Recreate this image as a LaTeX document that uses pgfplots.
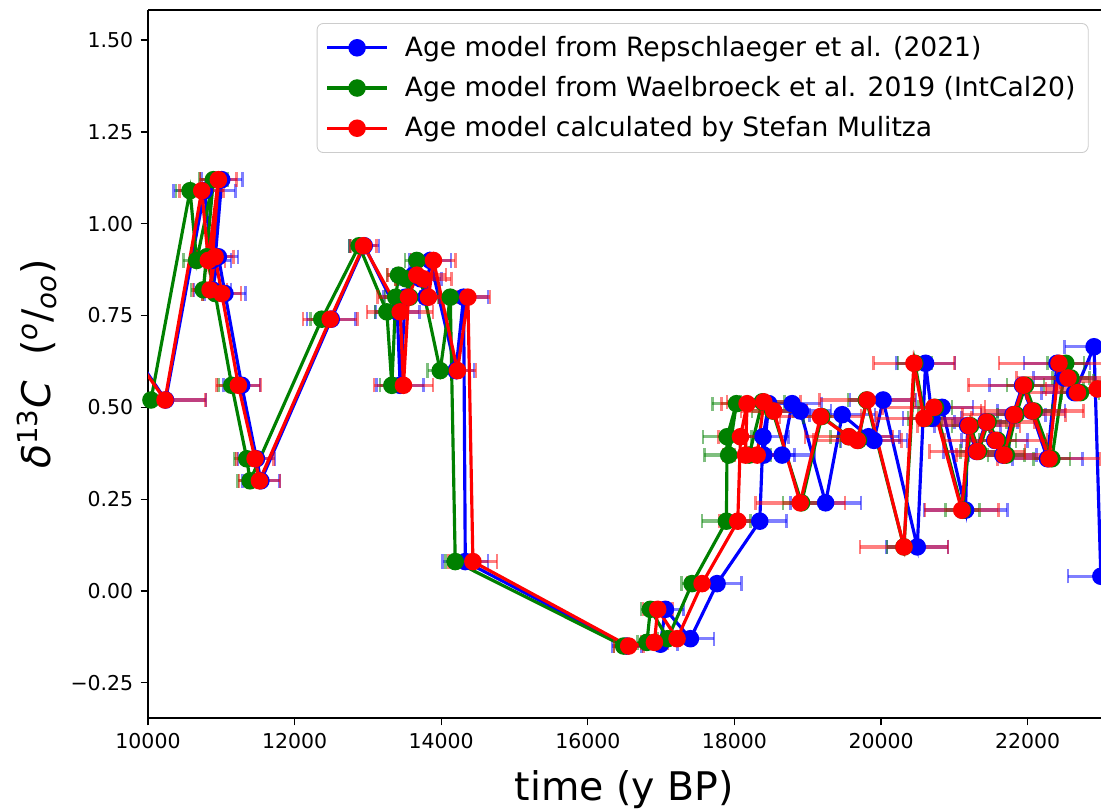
\documentclass[border=0pt]{standalone}
\usepackage{fontspec}
\setmainfont{DejaVu Sans}
\usepackage{pgfplots}
\usepackage{pgfplotstable}
\pgfplotsset{compat=1.18}

\definecolor{mplgreen}{rgb}{0,0.5,0}
\definecolor{framegray}{gray}{0.8}

% age models: x = age (y BP), y = d13C, ex = age uncertainty
\pgfplotstableread{
x y ex
9900 0.62 80
10240 0.52 550
10770 1.09 420
10870 0.90 260
11006 1.12 280
10880 0.82 250
10960 0.91 270
11050 0.81 280
11278 0.56 250
11480 0.36 250
11540 0.30 250
12500 0.74 330
12950 0.94 200
13400 0.76 300
13440 0.56 320
13510 0.80 300
13620 0.86 280
13720 0.85 280
13790 0.80 300
13850 0.90 280
14200 0.60 250
14305 0.80 330
14328 0.08 310
16530 -0.15 200
16990 -0.145 230
17058 -0.05 250
17399 -0.13 320
17763 0.02 330
18345 0.19 365
18390 0.42 350
18468 0.51 380
18400 0.37 420
18650 0.37 450
18786 0.51 400
18900 0.49 420
19243 0.24 480
19470 0.48 450
19830 0.42 420
19902 0.41 450
20028 0.52 450
20494 0.12 420
20607 0.62 400
20697 0.47 400
20833 0.50 420
21153 0.22 570
21180 0.45 450
21300 0.38 450
21430 0.46 430
21550 0.41 450
21660 0.37 460
21800 0.48 440
21930 0.56 450
22050 0.49 460
22270 0.36 480
22400 0.62 450
22500 0.58 420
22640 0.54 450
22905 0.665 400
22998 0.04 450
}\tblue

\pgfplotstableread{
x y ex
9700 0.62 80
10040 0.52 200
10573 1.09 190
10664 0.90 180
10892 1.12 190
10755 0.82 170
10800 0.91 180
10915 0.81 170
11142 0.56 180
11347 0.36 170
11392 0.30 170
12370 0.74 150
12880 0.94 130
13258 0.76 160
13326 0.56 160
13380 0.80 150
13417 0.86 160
13520 0.85 150
13570 0.80 150
13667 0.90 160
13986 0.60 170
14123 0.80 170
14191 0.08 130
16489 -0.15 130
16806 -0.14 130
16853 -0.05 130
17090 -0.13 140
17421 0.02 140
17890 0.19 330
17900 0.42 330
18027 0.51 330
17921 0.37 330
18200 0.37 300
18380 0.515 300
18520 0.49 280
18915 0.24 250
19190 0.475 250
19560 0.42 250
19690 0.41 250
19800 0.52 250
20312 0.12 230
20460 0.62 230
20600 0.47 230
20740 0.50 230
21110 0.22 230
21220 0.45 250
21330 0.38 250
21460 0.46 250
21590 0.41 250
21710 0.37 250
21840 0.48 250
21970 0.56 250
22090 0.49 250
22330 0.36 250
22520 0.62 250
22590 0.58 250
22720 0.54 250
23010 0.55 250
23150 0.57 250
}\tgreen

\pgfplotstableread{
x y ex
9880 0.62 80
10232 0.52 550
10733 1.09 300
10823 0.90 230
10960 1.12 250
10846 0.82 230
10915 0.91 250
11006 0.81 260
11233 0.56 300
11460 0.36 250
11520 0.30 280
12485 0.74 370
12940 0.94 180
13440 0.76 450
13485 0.56 400
13553 0.80 420
13667 0.86 400
13758 0.85 380
13826 0.80 380
13894 0.90 300
14222 0.60 250
14364 0.80 300
14432 0.08 330
16557 -0.15 200
16908 -0.14 180
16953 -0.05 200
17217 -0.13 180
17558 0.02 200
18045 0.19 250
18082 0.42 300
18172 0.51 350
18150 0.37 300
18310 0.37 300
18400 0.515 500
18536 0.49 450
18897 0.24 610
19174 0.475 550
19560 0.42 600
19675 0.41 600
19811 0.52 650
20312 0.12 600
20448 0.62 550
20584 0.47 650
20720 0.50 700
21100 0.22 500
21198 0.45 700
21311 0.38 650
21440 0.46 650
21563 0.41 700
21677 0.37 650
21814 0.48 700
21942 0.56 750
22062 0.49 700
22291 0.36 700
22427 0.62 820
22550 0.58 700
22678 0.54 700
22950 0.55 700
23150 0.57 700
}\tred

\pgfplotsset{
  errs/.style={only marks, mark=none, forget plot,
    error bars/.cd, x dir=both, x explicit,
    error bar style={line width=1.6pt, opacity=0.5},
    error mark options={line width=1.2pt, mark size=3.4pt, opacity=0.5, rotate=90}},
  series/.style={line width=1.5pt, mark=*, mark size=3.4pt},
}

\begin{document}
\begin{tikzpicture}
\begin{axis}[
  scale only axis, width=15.883cm, height=11.8cm,
  xmin=10000, xmax=23000, ymin=-0.346, ymax=1.582,
  axis x line*=box, axis y line*=left,
  axis line style={-, line width=0.7pt},
  tick align=outside, tick pos=left,
  major tick length=3.5pt,
  tick style={line width=0.6pt, black},
  scaled x ticks=false,
  xtick={10000,12000,14000,16000,18000,20000,22000},
  xticklabels={10000,12000,14000,16000,18000,20000,22000},
  ytick={-0.25,0,0.25,0.5,0.75,1,1.25,1.5},
  yticklabels={−0.25,0.00,0.25,0.50,0.75,1.00,1.25,1.50},
  tick label style={font=\fontsize{9.7}{11}\selectfont},
  xlabel={time (y BP)},
  every axis x label/.style={at={(rel axis cs:0.5,0)}, yshift=-1.367cm, anchor=base, font=\fontsize{18.7}{22}\selectfont},
  ylabel={\textit{δ}\textsuperscript{13}\textit{C}\ \ (\textsuperscript{\textit{o}}/\textsubscript{\textit{oo}})},
  every axis y label/.style={at={(rel axis cs:0,0.5)}, xshift=-1.85cm, rotate=90, anchor=center, font=\fontsize{18.7}{22}\selectfont},
  legend style={at={(rel axis cs:0.987,0.9816)}, anchor=north east,
    draw=framegray, rounded corners=3pt, font=\fontsize{12.6}{15}\selectfont,
    row sep=4pt, inner xsep=4pt, inner ysep=4pt},
  legend cell align=left,
  legend image code/.code={\draw[mark repeat=2, mark phase=2] plot coordinates {(0cm,0cm) (0.5cm,0cm) (1cm,0cm)}; \path (1.2cm,0cm);},
]
\addplot[blue, errs] table[x=x, y=y, x error=ex] \tblue;
\addplot[blue, series] table[x=x, y=y] \tblue;
\addlegendentry{Age model from Repschlaeger et al. (2021)}
\addplot[mplgreen, errs] table[x=x, y=y, x error=ex] \tgreen;
\addplot[mplgreen, series] table[x=x, y=y] \tgreen;
\addlegendentry{Age model from Waelbroeck et al. 2019 (IntCal20)}
\addplot[red, errs] table[x=x, y=y, x error=ex] \tred;
\addplot[red, series] table[x=x, y=y] \tred;
\addlegendentry{Age model calculated by Stefan Mulitza}
\end{axis}
\pgfresetboundingbox
\path ([xshift=-2.467cm, yshift=-1.5cm]current axis.south west) rectangle ([yshift=0.167cm]current axis.north east);
\end{tikzpicture}
\end{document}
